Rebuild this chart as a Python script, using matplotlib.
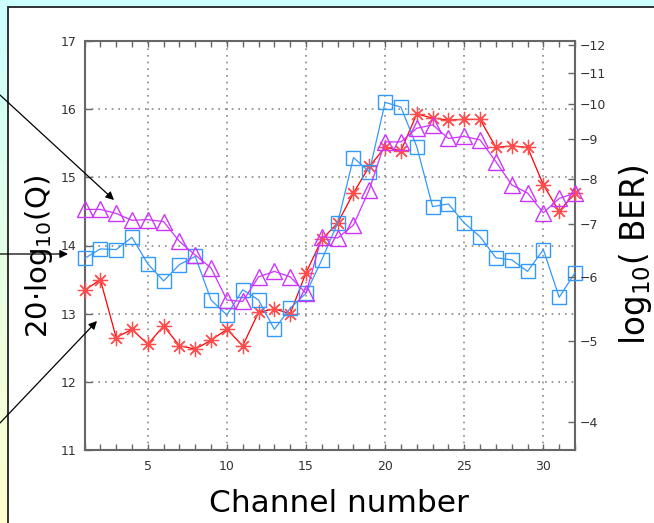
import math
import numpy as np
import matplotlib
matplotlib.use("Agg")
import matplotlib.pyplot as plt
from matplotlib.patches import Rectangle

# Datos
channels = list(range(1, 33))
q_tri = [14.53, 14.53, 14.47, 14.37, 14.38, 14.35, 14.06, 13.86, 13.67, 13.20,
         13.18, 13.54, 13.62, 13.54, 13.30, 14.13, 14.11, 14.30, 14.82, 15.52,
         15.52, 15.72, 15.77, 15.57, 15.60, 15.55, 15.23, 14.89, 14.77, 14.48,
         14.69, 14.77]
q_sq = [13.81, 13.95, 13.94, 14.12, 13.73, 13.48, 13.72, 13.84, 13.20, 12.98,
        13.35, 13.20, 12.77, 13.08, 13.30, 13.79, 14.33, 15.29, 15.08, 16.10,
        16.03, 15.45, 14.57, 14.61, 14.33, 14.13, 13.82, 13.79, 13.62, 13.94,
        13.24, 13.60]
q_star = [13.34, 13.50, 12.65, 12.77, 12.55, 12.82, 12.53, 12.48, 12.61, 12.77,
          12.53, 13.02, 13.07, 13.00, 13.60, 14.09, 14.33, 14.77, 15.16, 15.44,
          15.39, 15.93, 15.87, 15.84, 15.85, 15.85, 15.44, 15.46, 15.44, 14.89,
          14.50, 14.77]
ber_exp = [-12, -11, -10, -9, -8, -7, -6, -5, -4]


def q_db_from_ber(b):
    # BER = 0.5*erfc(Q/sqrt(2)) -> 20*log10(Q)
    lo, hi = 0.1, 20.0
    for _ in range(200):
        mid = 0.5 * (lo + hi)
        if 0.5 * math.erfc(mid / math.sqrt(2)) > b:
            lo = mid
        else:
            hi = mid
    return 20 * math.log10(0.5 * (lo + hi))


W, H = 654, 523
fig = plt.figure(figsize=(W / 100, H / 100), dpi=100)

# fondo con degradado
bg = fig.add_axes([0, 0, 1, 1], zorder=-10)
grad = np.linspace(0, 1, 256)[:, None]
c_top = np.array([0.80, 1.0, 1.0])
c_bot = np.array([1.0, 1.0, 0.80])
img = (c_top[None, None, :] * (1 - grad[..., None]) + c_bot[None, None, :] * grad[..., None])
img = np.repeat(img, 2, axis=1)
bg.imshow(img, aspect="auto", extent=[0, 1, 0, 1])
bg.set_axis_off()
fig.patches.append(Rectangle((8 / W, -0.05), 1.1, 1 - 7 / H + 0.05, transform=fig.transFigure,
                             facecolor="white", edgecolor="#222222", lw=1.3, zorder=-5))

ax = fig.add_axes([84.5 / W, 1 - 450 / H, (575 - 84.5) / W, (450 - 41) / H])
ax.patch.set_alpha(0)

ax.plot(channels, q_star, color="#ff0000", lw=0.9, marker=(8, 2, 0), ms=11,
        mec="#ff4d4d", mew=0.9, zorder=3, clip_on=False)
ax.plot(channels, q_sq, color="#3399ff", lw=0.9, marker="s", ms=10,
        mfc="none", mec="#3399ff", mew=1.0, zorder=3, clip_on=False)
ax.plot(channels, q_tri, color="#cc33ff", lw=0.9, marker="^", ms=11,
        mfc="none", mec="#cc33ff", mew=1.0, zorder=3, clip_on=False)

ax.set_xlim(1, 32)
ax.set_ylim(11, 17)
ax.set_xticks([5, 10, 15, 20, 25, 30])
ax.set_xticks(range(1, 33), minor=True)
ax.set_yticks(range(11, 18))
ax.tick_params(axis="both", which="both", direction="in", colors="#666666",
               labelcolor="#333333", labelsize=9, width=1)
ax.tick_params(axis="x", which="both", top=True, length=4)
ax.tick_params(axis="y", length=5, pad=6)
ax.tick_params(axis="x", which="major", pad=7)
ax.grid(True, which="major", color="#888888", ls=(0, (1, 3)), lw=1.2)
for s in ax.spines.values():
    s.set_color("#666666")
    s.set_linewidth(1.5)

ax2 = ax.twinx()
ax2.set_ylim(11, 17)
ax2.set_yticks([q_db_from_ber(10.0 ** e) for e in ber_exp])
ax2.set_yticklabels(["\u2212%d" % (-e) for e in ber_exp])
ax2.tick_params(axis="y", direction="in", length=5, colors="#666666",
                labelcolor="#333333", labelsize=9, width=1)
for s in ax2.spines.values():
    s.set_visible(False)

fig.text(39 / W, 1 - 257 / H, "20·log$_{10}$(Q)", rotation=90, ha="center",
         va="center", fontsize=21)
fig.text(635 / W, 1 - 255 / H, "log$_{10}$( BER)", rotation=90, ha="center",
         va="center", fontsize=23.5)
fig.text(339 / W, 1 - 512 / H, "Channel number", ha="center", va="baseline",
         fontsize=22.5)

arrows = [((0, 95), (114, 200)), ((0, 254), (68, 254)), ((0, 423), (97, 321))]
for (x0, y0), (x1, y1) in arrows:
    ax.annotate("", xy=(x1 / W, 1 - y1 / H), xycoords="figure fraction",
                xytext=(x0 / W, 1 - y0 / H), textcoords="figure fraction",
                arrowprops=dict(arrowstyle="-|>", color="black", lw=0.9,
                                mutation_scale=12, shrinkA=0, shrinkB=0),
                annotation_clip=False)

fig.savefig("out.png", dpi=100)
